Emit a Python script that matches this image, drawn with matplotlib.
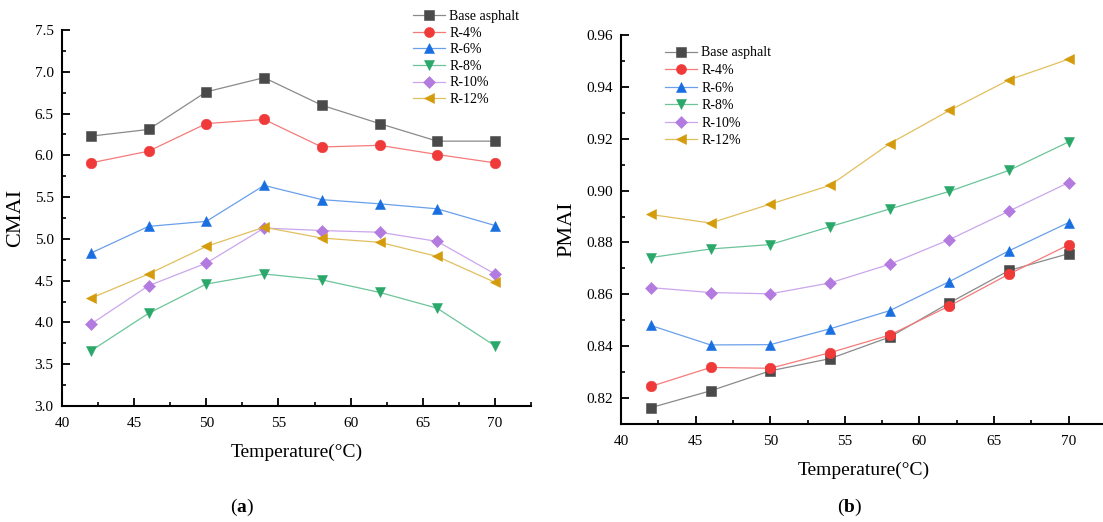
import matplotlib
matplotlib.use("Agg")
import matplotlib.pyplot as plt
from matplotlib.ticker import MultipleLocator, FormatStrFormatter

plt.rcParams['font.family'] = ['Liberation Serif', 'DejaVu Serif']
plt.rcParams['mathtext.fontset'] = 'custom'
plt.rcParams['mathtext.rm'] = 'Liberation Serif'
plt.rcParams['mathtext.bf'] = 'Liberation Serif:bold'

temps = [42, 46, 50, 54, 58, 62, 66, 70]
series_names = ["Base asphalt", "R-4%", "R-6%", "R-8%", "R-10%", "R-12%"]

cmai_base = [6.23, 6.31, 6.76, 6.93, 6.60, 6.38, 6.17, 6.17]
cmai_r4 = [5.91, 6.05, 6.38, 6.43, 6.10, 6.12, 6.01, 5.91]
cmai_r6 = [4.83, 5.15, 5.21, 5.64, 5.47, 5.42, 5.36, 5.16]
cmai_r8 = [3.66, 4.11, 4.46, 4.58, 4.51, 4.36, 4.17, 3.72]
cmai_r10 = [3.98, 4.44, 4.71, 5.13, 5.10, 5.08, 4.97, 4.58]
cmai_r12 = [4.29, 4.58, 4.91, 5.14, 5.01, 4.96, 4.79, 4.48]

pmai_base = [0.8163, 0.8228, 0.8305, 0.8352, 0.8435, 0.8567, 0.8692, 0.8757]
pmai_r4 = [0.8245, 0.8318, 0.8315, 0.8375, 0.8443, 0.8555, 0.8678, 0.8791]
pmai_r6 = [0.8480, 0.8405, 0.8406, 0.8467, 0.8537, 0.8649, 0.8768, 0.8877]
pmai_r8 = [0.8742, 0.8775, 0.8792, 0.8861, 0.8929, 0.8997, 0.9078, 0.9188]
pmai_r10 = [0.8626, 0.8607, 0.8602, 0.8644, 0.8716, 0.8811, 0.8921, 0.9031]
pmai_r12 = [0.8908, 0.8875, 0.8948, 0.9020, 0.9181, 0.9309, 0.9427, 0.9507]

marker_colors = ["#4a4a4a", "#f03a3a", "#1a6fe0", "#2aa86a", "#b37ae0", "#d49c0c"]
line_colors = ["#8a8a8a", "#f57a7a", "#6aa0ea", "#6cc49a", "#cba6ec", "#e2bf5e"]
markers = ["s", "o", "^", "v", "D", "<"]
msizes = [7.2, 7.6, 7.8, 7.8, 5.9, 7.8]

fig = plt.figure(figsize=(11.03, 5.22), dpi=100)
axL = fig.add_axes([0.0562, 0.2222, 0.4253, 0.7203])
axR = fig.add_axes([0.5630, 0.1877, 0.4397, 0.7452])

def style(ax, ylim, ymaj, ymin):
    ax.set_xlim(40, 72.5)
    ax.set_ylim(*ylim)
    ax.xaxis.set_major_locator(MultipleLocator(5))
    ax.xaxis.set_minor_locator(MultipleLocator(2.5))
    ax.yaxis.set_major_locator(MultipleLocator(ymaj))
    ax.yaxis.set_minor_locator(MultipleLocator(ymin))
    for s in ["top", "right"]:
        ax.spines[s].set_visible(False)
    for s in ["left", "bottom"]:
        ax.spines[s].set_linewidth(1.5)
    ax.tick_params(which="major", direction="in", length=6, width=1.3, labelsize=11)
    ax.tick_params(which="minor", direction="in", length=3, width=1.2)
    ax.tick_params(axis="x", which="major", pad=8)
    ax.tick_params(axis="y", which="major", pad=6)
    ax.set_xlabel("Temperature(°C)", fontsize=14, labelpad=10)

cm = [cmai_base, cmai_r4, cmai_r6, cmai_r8, cmai_r10, cmai_r12]
pm = [pmai_base, pmai_r4, pmai_r6, pmai_r8, pmai_r10, pmai_r12]

for i, name in enumerate(series_names):
    for ax, data in ((axL, cm[i]), (axR, pm[i])):
        ax.plot(temps, data, color=line_colors[i], lw=0.9, marker=markers[i],
                markersize=msizes[i], markerfacecolor=marker_colors[i],
                markeredgecolor=marker_colors[i], markeredgewidth=0.4,
                label=name, clip_on=False, zorder=3)

style(axL, (3.0, 7.5), 0.5, 0.25)
style(axR, (0.81, 0.96), 0.02, 0.01)
axL.set_ylabel("CMAI", fontsize=16, labelpad=7)
axR.set_ylabel("PMAI", fontsize=16, labelpad=7)
axR.yaxis.set_major_formatter(FormatStrFormatter("%.2f"))
axL.yaxis.set_major_formatter(FormatStrFormatter("%.1f"))

legkw = dict(frameon=False, fontsize=10, handlelength=2.3, handletextpad=0.3,
             borderaxespad=0, markerscale=0.95)
axL.legend(loc="upper left", bbox_to_anchor=(0.737, 1.068), labelspacing=0.26, **legkw)
axR.legend(loc="upper left", bbox_to_anchor=(0.080, 0.985), labelspacing=0.33, **legkw)

fig.text(0.2195, 0.027, r"($\mathbf{a}$)", fontsize=14, ha="center", va="center")
fig.text(0.7700, 0.027, r"($\mathbf{b}$)", fontsize=14, ha="center", va="center")

fig.savefig("out.png", dpi=100)
